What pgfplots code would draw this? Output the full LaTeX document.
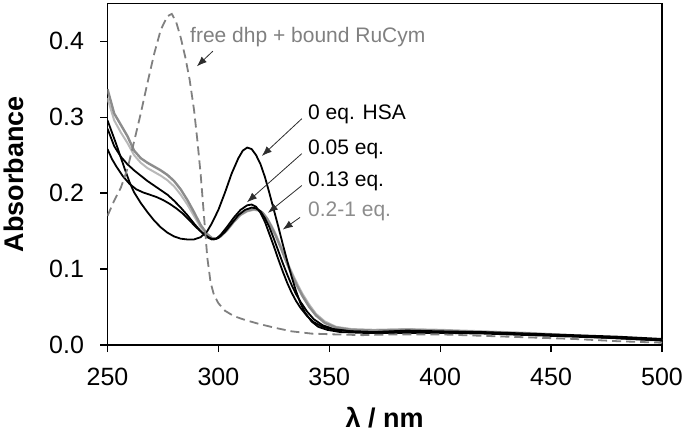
\documentclass[border=0pt]{standalone}
\usepackage{fontspec}
\setmainfont{Liberation Sans}
\usepackage{pgfplots}
\pgfplotsset{compat=1.18}
\usetikzlibrary{arrows.meta}
\definecolor{dgray}{RGB}{128,128,128}
\definecolor{mgray}{RGB}{140,140,140}
\definecolor{lgray}{RGB}{185,185,185}
\definecolor{agray}{RGB}{45,45,45}
\begin{document}
\begin{tikzpicture}
\begin{axis}[
  at={(0,0)}, anchor=south west,
  scale only axis, width=554.5bp, height=341.7bp,
  xmin=250, xmax=500, ymin=0, ymax=0.45,
  xtick={250,300,350,400,450,500},
  ytick={0,0.1,0.2,0.3,0.4},
  tick pos=left, tick align=outside,
  major tick length=7bp,
  axis line style={line width=1.3bp},
  tick style={line width=1.3bp, black},
  /pgf/number format/assume math mode=true,
  ticklabel style={font=\fontsize{25bp}{30bp}\selectfont},
  yticklabel style={xshift=-13bp, /pgf/number format/.cd, fixed, fixed zerofill, precision=1},
  xticklabel style={yshift=-13bp, /pgf/number format/.cd, fixed, precision=0, 1000 sep={}},
  xlabel={\textbf{λ / nm}},
  ylabel={\textbf{Absorbance}},
  label style={font=\fontsize{27bp}{32bp}\selectfont},
  xlabel style={at={(axis description cs:0.5,-0.214)}, anchor=center},
  ylabel style={at={(axis description cs:-0.169,0.5)}, anchor=center},
  clip=true,
]
% 0.2-1 eq. (grey)
\addplot[lgray, line width=2bp] coordinates {
(250,0.325)(253,0.296)(256,0.280)(259,0.266)(262,0.250)(265,0.240)(268,0.233)(271,0.228)(274,0.223)(277,0.217)(280,0.209)(283,0.198)(286,0.185)(289,0.170)(292,0.155)(295,0.145)(297,0.141)(299,0.140)(301,0.143)(304,0.151)(307,0.162)(310,0.171)(313,0.176)(316,0.178)(318,0.177)(320,0.174)(322,0.167)(324,0.157)(326,0.145)(328,0.131)(330,0.117)(332,0.103)(334,0.090)(336,0.078)(338,0.067)(341,0.053)(344,0.041)(348,0.031)(353,0.024)(360,0.021)(370,0.020)(385,0.021)(400,0.020)(420,0.018)(440,0.016)(460,0.013)(480,0.010)(500,0.007)
};
\addplot[mgray, line width=2.4bp] coordinates {
(250,0.337)(253,0.305)(256,0.290)(259,0.275)(262,0.256)(265,0.246)(268,0.240)(271,0.235)(274,0.230)(277,0.224)(280,0.216)(283,0.205)(286,0.191)(289,0.175)(292,0.158)(295,0.146)(297,0.141)(299,0.140)(301,0.143)(304,0.152)(307,0.163)(310,0.172)(313,0.177)(316,0.179)(318,0.178)(320,0.174)(322,0.166)(324,0.155)(326,0.143)(328,0.129)(330,0.114)(332,0.100)(334,0.087)(336,0.075)(338,0.064)(341,0.050)(344,0.039)(348,0.029)(353,0.023)(360,0.020)(370,0.019)(385,0.020)(400,0.019)(420,0.017)(440,0.015)(460,0.012)(480,0.009)(500,0.006)
};
% 0.13 eq.
\addplot[black, line width=1.8bp] coordinates {
(250,0.258)(252,0.245)(254,0.235)(257,0.222)(260,0.212)(263,0.205)(266,0.201)(269,0.198)(272,0.195)(275,0.191)(278,0.186)(281,0.180)(284,0.173)(287,0.164)(290,0.155)(293,0.147)(296,0.141)(298,0.139)(300,0.141)(303,0.149)(306,0.160)(309,0.171)(312,0.178)(315,0.181)(317,0.180)(319,0.176)(321,0.167)(323,0.155)(325,0.140)(327,0.124)(329,0.108)(331,0.093)(333,0.079)(335,0.067)(337,0.057)(340,0.044)(343,0.034)(347,0.026)(352,0.021)(360,0.018)(370,0.017)(385,0.019)(400,0.018)(420,0.017)(440,0.015)(460,0.013)(480,0.011)(500,0.008)
};
% 0.05 eq.
\addplot[black, line width=1.8bp] coordinates {
(250,0.285)(253,0.262)(256,0.248)(259,0.238)(262,0.230)(265,0.223)(268,0.216)(271,0.210)(274,0.204)(277,0.198)(280,0.190)(283,0.181)(286,0.171)(289,0.160)(292,0.150)(295,0.142)(297,0.139)(299,0.140)(301,0.145)(304,0.156)(307,0.168)(310,0.178)(313,0.184)(315,0.185)(317,0.182)(319,0.174)(321,0.162)(323,0.146)(325,0.130)(327,0.113)(329,0.097)(331,0.082)(333,0.069)(335,0.058)(337,0.049)(340,0.038)(343,0.030)(347,0.024)(352,0.020)(360,0.018)(370,0.017)(385,0.018)(400,0.017)(420,0.016)(440,0.014)(460,0.012)(480,0.009)(500,0.006)
};
% 0 eq. HSA
\addplot[black, line width=1.8bp] coordinates {
(250,0.296)(252,0.280)(254,0.264)(256,0.247)(258,0.230)(260,0.214)(262,0.201)(265,0.187)(268,0.175)(271,0.164)(274,0.155)(277,0.148)(280,0.143)(283,0.140)(286,0.139)(289,0.139)(292,0.142)(295,0.150)(297,0.160)(300,0.178)(303,0.201)(306,0.226)(309,0.246)(311,0.256)(313,0.260)(315,0.258)(317,0.250)(319,0.238)(321,0.221)(323,0.200)(325,0.178)(327,0.156)(329,0.133)(331,0.111)(333,0.090)(335,0.071)(337,0.055)(339,0.043)(342,0.031)(345,0.024)(349,0.020)(355,0.017)(365,0.016)(380,0.016)(400,0.016)(420,0.015)(440,0.013)(460,0.011)(480,0.009)(500,0.006)
};
% free dhp + bound RuCym (dashed)
\addplot[dgray, line width=1.8bp, dash pattern=on 9bp off 5bp] coordinates {
(250,0.170)(253,0.190)(256,0.207)(259,0.232)(262,0.268)(265,0.305)(268,0.345)(271,0.383)(274,0.415)(277,0.433)(279,0.436)(281,0.425)(283,0.405)(285,0.380)(287,0.350)(289,0.310)(290.5,0.270)(292,0.225)(293.5,0.170)(295,0.115)(296.5,0.082)(298,0.066)(300,0.055)(303,0.045)(307,0.038)(312,0.033)(318,0.028)(325,0.023)(333,0.018)(342,0.015)(352,0.014)(365,0.013)(380,0.014)(400,0.014)(420,0.012)(440,0.010)(460,0.008)(480,0.005)(500,0.003)
};
% annotations
\node[anchor=west, inner sep=0pt, text=dgray, font=\fontsize{21bp}{25bp}\selectfont] at (axis cs:287.2,0.405) {free dhp + bound RuCym};
\draw[agray, line width=0.8bp, -{Latex[length=10bp,width=7.5bp]}] (axis cs:297.5,0.387) -- (axis cs:290.3,0.367);
\node[anchor=west, inner sep=0pt, text=black, font=\fontsize{21bp}{25bp}\selectfont] at (axis cs:340.4,0.304) {0 eq. HSA};
\draw[agray, line width=0.8bp, -{Latex[length=10bp,width=7.5bp]}] (axis cs:337.6,0.298) -- (axis cs:319.6,0.249);
\node[anchor=west, inner sep=0pt, text=black, font=\fontsize{21bp}{25bp}\selectfont] at (axis cs:340.4,0.258) {0.05 eq.};
\draw[agray, line width=0.8bp, -{Latex[length=10bp,width=7.5bp]}] (axis cs:337.6,0.252) -- (axis cs:312.9,0.188);
\node[anchor=west, inner sep=0pt, text=black, font=\fontsize{21bp}{25bp}\selectfont] at (axis cs:340.4,0.216) {0.13 eq.};
\draw[agray, line width=0.8bp, -{Latex[length=10bp,width=7.5bp]}] (axis cs:337.6,0.210) -- (axis cs:322.3,0.174);
\node[anchor=west, inner sep=0pt, text=mgray, font=\fontsize{21bp}{25bp}\selectfont] at (axis cs:340.4,0.176) {0.2-1 eq.};
\draw[agray, line width=0.8bp, -{Latex[length=10bp,width=7.5bp]}] (axis cs:336.8,0.168) -- (axis cs:329.0,0.152);
\end{axis}
\pgfresetboundingbox
\path (-107.5bp,-92bp) rectangle (577.5bp,345bp);
\end{tikzpicture}
\end{document}
